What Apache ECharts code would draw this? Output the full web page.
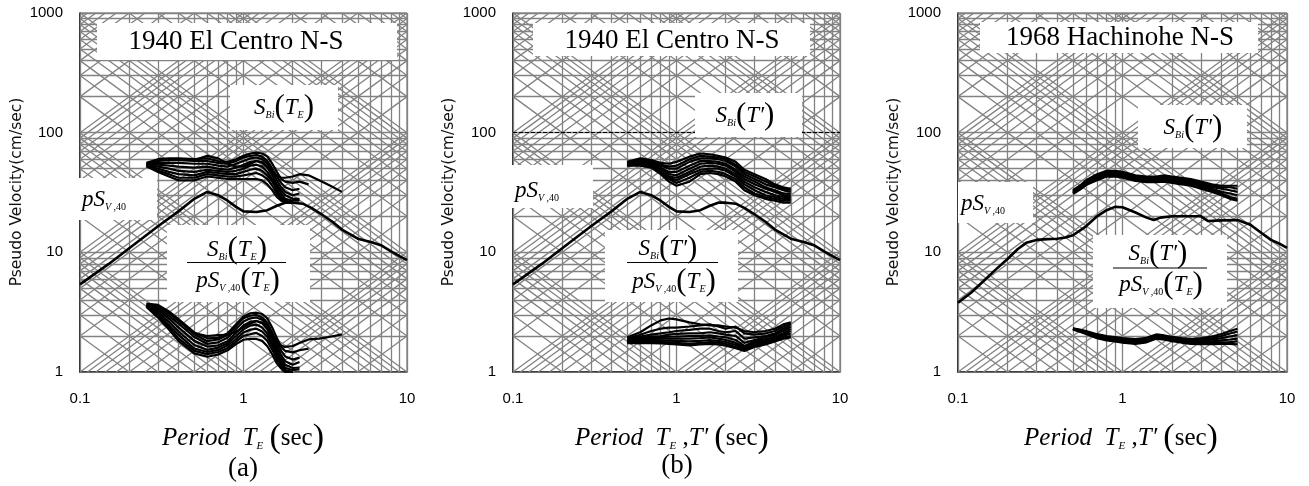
<!DOCTYPE html>
<html>
<head>
<meta charset="utf-8">
<script src="https://cdn.jsdelivr.net/npm/echarts@6/dist/echarts.min.js"></script>
<style>
  html, body { margin: 0; padding: 0; background: #fff; }
  #chart { width: 1309px; height: 486px; }
</style>
</head>
<body>
<div id="chart"></div>
<script>
// ---- data ----
const xTickLabels = ['0.1', '1', '10'];
const yTickLabels = ['1', '10', '100', '1000'];
const panelTitles = ['1940 El Centro N-S', '1940 El Centro N-S', '1968 Hachinohe N-S'];

// pS_V,40 spectra
const elcPeriods = [0.1, 0.15, 0.2, 0.3, 0.4, 0.5, 0.6, 0.7, 0.8, 0.9, 1.0, 1.2, 1.4, 1.6, 1.8, 2.0, 2.3, 2.6, 3.0, 3.5, 4.0, 5.0, 6.0, 7.0, 8.0, 9.0, 10];
const elcPsv40 = [5.4, 8.0, 10.8, 16.5, 22, 28, 32, 30, 27, 24, 22, 21.7, 22.5, 24.5, 26, 26, 25.5, 23.5, 20.8, 18, 15.5, 13, 12.2, 11.4, 10.2, 9.3, 8.6];
const hachPeriods = [0.1, 0.12, 0.14, 0.17, 0.2, 0.23, 0.26, 0.3, 0.35, 0.4, 0.45, 0.5, 0.6, 0.7, 0.8, 0.9, 1.0, 1.2, 1.4, 1.55, 1.7, 2.0, 2.5, 3.0, 3.3, 4.0, 5.0, 6.0, 7.0, 8.0, 9.0, 10];
const hachPsv40 = [3.8, 4.6, 5.6, 7.2, 8.8, 10.6, 12, 12.7, 12.9, 13, 13.3, 13.9, 16.5, 20, 22.5, 24, 23.8, 21.5, 19.5, 18.6, 19.5, 20, 20, 20, 18.3, 18.5, 18.6, 17, 14.5, 12.7, 11.8, 10.9];

// (a) S_Bi(T_E) and ratio, El Centro
const aPeriods = [0.255, 0.3, 0.35, 0.4, 0.5, 0.6, 0.7, 0.8, 0.9, 1.0, 1.1, 1.2, 1.3, 1.4, 1.5, 1.6, 1.7, 1.8, 2.0, 2.2, 2.5, 2.9, 3.4, 4.0];
const aSbi1 = [56, 60, 61, 61, 60, 61, 58, 57, 60, 64, 67, 68, 67, 63, 55, 47, 41, 39, 38, 39, 37];
const aSbi2 = [55.5, 58, 59, 59, 58, 58, 56, 55, 58, 62, 64, 65, 63, 58, 50, 43, 38, 35, 33, 34];
const aSbi3 = [55, 56, 56, 56, 55, 55, 53, 52, 55, 58, 61, 62, 60, 55, 47, 40, 35, 32, 30, 31];
const aSbi4 = [54.5, 54, 53, 52, 51, 52, 50, 49, 51, 54, 57, 58, 56, 51, 44, 37, 33, 30, 28, 28];
const aSbi5 = [54, 52, 50, 48, 47, 49, 48, 47, 48, 50, 53, 54, 52, 47, 41, 35, 31, 28, 27, 27];
const aSbi6 = [53.5, 50, 47, 45, 44, 47, 46, 45, 45, 47, 49, 50, 48, 44, 39, 33, 29, 27, 26];
const aSbi7 = [53, 48, 45, 42, 42, 45, 44, 43, 43, 44, 45, 46, 44, 41, 36, 31, 28, 26, 26];
const aSbi8 = [52.5, 47, 43, 40, 40, 43, 42, 41, 41, 41, 41, 41, 40, 37, 33, 29, 27, 26, 26];
const aSbi9 = [null, null, null, null, 59, 64, 61, 55, 52, 52, 55, 58, 57, 52, 47, 44, 42, 42, 43, 45, 44, 40, 36, 32];
const aRatio1 = [3.73, 3.64, 3.21, 2.77, 2.14, 1.91, 1.93, 2.11, 2.5, 2.91, 3.09, 3.13, 3.05, 2.8, 2.34, 1.92, 1.62, 1.5, 1.46, 1.52, 1.57];
const aRatio2 = [3.7, 3.52, 3.1, 2.68, 2.07, 1.81, 1.87, 2.04, 2.42, 2.82, 2.95, 3.0, 2.86, 2.58, 2.13, 1.76, 1.5, 1.35, 1.27, 1.32];
const aRatio3 = [3.67, 3.39, 2.95, 2.55, 1.96, 1.72, 1.77, 1.93, 2.29, 2.64, 2.81, 2.86, 2.73, 2.44, 2.0, 1.63, 1.38, 1.23, 1.15, 1.21];
const aRatio4 = [3.63, 3.27, 2.79, 2.36, 1.82, 1.63, 1.67, 1.81, 2.13, 2.45, 2.63, 2.67, 2.55, 2.27, 1.87, 1.51, 1.3, 1.15, 1.08, 1.09];
const aRatio5 = [3.6, 3.15, 2.63, 2.18, 1.68, 1.53, 1.6, 1.74, 2.0, 2.27, 2.44, 2.49, 2.36, 2.09, 1.74, 1.43, 1.23, 1.08, 1.04, 1.05];
const aRatio6 = [3.57, 3.03, 2.47, 2.05, 1.57, 1.47, 1.53, 1.67, 1.88, 2.14, 2.26, 2.3, 2.18, 1.96, 1.66, 1.35, 1.15, 1.04, 1.0];
const aRatio7 = [3.53, 2.91, 2.37, 1.91, 1.5, 1.41, 1.47, 1.59, 1.79, 2.0, 2.07, 2.12, 2.0, 1.82, 1.53, 1.27, 1.11, 1.0, 1.0];
const aRatio8 = [3.5, 2.85, 2.26, 1.82, 1.43, 1.34, 1.4, 1.52, 1.71, 1.86, 1.89, 1.89, 1.82, 1.64, 1.4, 1.18, 1.07, 1.0, 1.0];
const aRatio9 = [null, null, null, null, 2.11, 2.0, 2.03, 2.04, 2.17, 2.36, 2.53, 2.67, 2.59, 2.31, 2.0, 1.8, 1.66, 1.62, 1.65, 1.75, 1.87, 1.9, 1.97, 2.06];

// (b) S_Bi(T') and ratio, El Centro
const bPeriods = [0.5, 0.6, 0.7, 0.8, 0.9, 1.0, 1.2, 1.4, 1.6, 1.8, 2.0, 2.3, 2.6, 3.0, 3.5, 4.0, 4.5, 5.0];
const bSbi1 = [57, 61, 59, 56, 55, 57, 63, 67, 66, 64, 62, 57, 49, 45, 41, 37, 35, 34];
const bSbi2 = [56, 60, 58, 54, 52, 53, 60, 64, 63, 62, 60, 54, 47, 43, 39, 36, 34, 33];
const bSbi3 = [56, 59, 57, 53, 50, 50, 57, 61, 61, 60, 58, 52, 45, 41, 37, 35, 33, 32];
const bSbi4 = [55, 58, 56, 51, 47, 47, 53, 58, 58, 57, 55, 49, 43, 39, 35, 33, 31, 31];
const bSbi5 = [55, 57, 55, 50, 45, 44, 50, 55, 56, 55, 53, 47, 41, 37, 34, 32, 30, 30];
const bSbi6 = [54, 56, 54, 48, 43, 42, 47, 52, 53, 52, 50, 45, 39, 35, 32, 30, 29, 29];
const bSbi7 = [54, 55, 53, 47, 42, 40, 45, 49, 50, 50, 48, 43, 37, 33, 30, 29, 28, 28];
const bSbi8 = [53, 54, 52, 46, 41, 38, 42, 47, 48, 47, 45, 41, 35, 31, 29, 28, 27, 27];
const bSbi9 = [53, 53, 51, 45, 39, 36, 39, 45, 46, 45, 43, 39, 33, 30, 28, 27, 26, 26];
const bRatio1 = [1.95, 2.15, 2.45, 2.7, 2.8, 2.75, 2.6, 2.5, 2.45, 2.45, 2.4, 2.35, 2.2, 2.15, 2.2, 2.3, 2.5, 2.6];
const bRatio2 = [1.9, 2.05, 2.2, 2.3, 2.35, 2.35, 2.4, 2.45, 2.5, 2.4, 2.3, 2.4, 2.1, 2.05, 2.1, 2.2, 2.4, 2.55];
const bRatio3 = [1.88, 1.98, 2.05, 2.1, 2.15, 2.2, 2.25, 2.3, 2.3, 2.2, 2.15, 2.2, 1.9, 1.95, 2.0, 2.1, 2.3, 2.5];
const bRatio4 = [1.85, 1.92, 1.98, 2.0, 2.05, 2.08, 2.1, 2.1, 2.15, 2.1, 2.05, 2.0, 1.75, 1.85, 1.95, 2.05, 2.2, 2.4];
const bRatio5 = [1.82, 1.88, 1.92, 1.95, 1.97, 1.98, 2.0, 2.0, 2.02, 1.98, 1.95, 1.85, 1.65, 1.8, 1.88, 1.98, 2.1, 2.3];
const bRatio6 = [1.8, 1.85, 1.88, 1.9, 1.9, 1.9, 1.9, 1.92, 1.95, 1.9, 1.85, 1.75, 1.6, 1.75, 1.82, 1.92, 2.05, 2.2];
const bRatio7 = [1.78, 1.82, 1.84, 1.84, 1.83, 1.82, 1.8, 1.82, 1.85, 1.82, 1.78, 1.68, 1.55, 1.7, 1.78, 1.88, 2.0, 2.1];
const bRatio8 = [1.76, 1.78, 1.78, 1.78, 1.77, 1.75, 1.72, 1.75, 1.78, 1.76, 1.72, 1.62, 1.52, 1.66, 1.74, 1.84, 1.95, 2.0];
const bRatio9 = [1.74, 1.75, 1.74, 1.73, 1.72, 1.7, 1.67, 1.7, 1.72, 1.7, 1.66, 1.58, 1.5, 1.62, 1.7, 1.8, 1.9, 1.95];

// (c) S_Bi(T') and ratio, Hachinohe
const cPeriods = [0.5, 0.55, 0.6, 0.7, 0.8, 0.9, 1.0, 1.2, 1.4, 1.6, 1.8, 2.0, 2.3, 2.6, 3.0, 3.5, 4.0, 4.5, 5.0];
const cSbi1 = [33, 36, 40, 45, 48, 48, 47, 44, 43, 43, 44, 43, 42, 41, 39, 37, 36, 36, 36];
const cSbi2 = [32.5, 35.5, 39, 44, 47, 47, 46, 43, 42, 42, 43, 42, 41, 40, 38, 36, 35, 35, 34];
const cSbi3 = [32, 35, 38, 43, 46, 46, 45, 42, 41, 41, 42, 41, 40, 39, 37, 35, 34, 33, 32];
const cSbi4 = [31.5, 34.5, 37.5, 42, 45, 45, 44, 41, 40, 40, 41, 40, 39, 38, 36, 34, 32, 31, 30];
const cSbi5 = [31, 34, 37, 41, 44, 44, 43, 40, 39, 39, 40, 39, 38, 37, 35, 33, 31, 29, 28];
const cSbi6 = [31, 33.5, 36.5, 40, 43, 43, 42, 39.5, 38.5, 38.5, 39, 38, 37, 36, 34, 32, 30, 28, 27];
const cRatio1 = [2.32, 2.26, 2.2, 2.07, 2.0, 1.96, 1.92, 1.88, 1.93, 2.06, 2.02, 1.97, 1.92, 1.88, 1.92, 1.98, 2.08, 2.2, 2.3];
const cRatio2 = [2.31, 2.24, 2.18, 2.04, 1.96, 1.92, 1.88, 1.84, 1.89, 2.02, 1.99, 1.94, 1.89, 1.84, 1.87, 1.92, 2.0, 2.1, 2.18];
const cRatio3 = [2.3, 2.22, 2.15, 2.0, 1.92, 1.88, 1.84, 1.8, 1.85, 1.98, 1.95, 1.9, 1.85, 1.8, 1.82, 1.86, 1.92, 1.98, 2.03];
const cRatio4 = [2.29, 2.2, 2.12, 1.97, 1.89, 1.85, 1.81, 1.77, 1.82, 1.95, 1.92, 1.87, 1.82, 1.77, 1.78, 1.8, 1.84, 1.87, 1.9];
const cRatio5 = [2.28, 2.18, 2.1, 1.94, 1.86, 1.82, 1.78, 1.74, 1.79, 1.92, 1.89, 1.84, 1.79, 1.74, 1.74, 1.75, 1.77, 1.78, 1.8];
const cRatio6 = [2.27, 2.17, 2.08, 1.92, 1.84, 1.8, 1.76, 1.72, 1.77, 1.9, 1.86, 1.81, 1.76, 1.72, 1.71, 1.71, 1.72, 1.72, 1.7];

// tripartite grid: mantissas per decade
const gridMantissas = [1, 2, 3, 4, 5, 6, 7, 8, 9];

// ---- layout ----
const SERIF = '"Liberation Serif", "Times New Roman", serif';
const SANS = '"Liberation Sans", Arial, sans-serif';
const plotTop = 13, plotHeight = 359;
const grids = [
  { left: 80, top: plotTop, width: 327, height: plotHeight },
  { left: 513, top: plotTop, width: 327, height: plotHeight },
  { left: 958, top: plotTop, width: 329, height: plotHeight }
];

function pairs(periods, values) {
  const out = [];
  for (let i = 0; i < values.length; i++) {
    if (values[i] != null) out.push([periods[i], values[i]]);
  }
  return out;
}

function decadeValues(lo, hi) {
  const out = [];
  for (let e = lo; e < hi; e++) {
    gridMantissas.forEach(m => out.push(+(m * Math.pow(10, e)).toPrecision(6)));
  }
  out.push(Math.pow(10, hi));
  return out;
}

function gridLines() {
  const c = [];
  decadeValues(-1, 1).forEach(t => c.push([[t, 1], [t, 1000]]));
  decadeValues(0, 3).forEach(v => c.push([[0.1, v], [10, v]]));
  decadeValues(-1, 4).forEach(k => {
    // constant acceleration (slope +1)
    let t0 = Math.max(0.1, 1 / k), t1 = Math.min(10, 1000 / k);
    if (t1 > t0 * 1.0001) c.push([[t0, k * t0], [t1, k * t1]]);
    // constant displacement (slope -1)
    t0 = Math.max(0.1, k / 1000); t1 = Math.min(10, k);
    if (t1 > t0 * 1.0001) c.push([[t0, k / t0], [t1, k / t1]]);
  });
  return c.map(x => ({ coords: x }));
}

const series = [];
grids.forEach((g, i) => {
  series.push({
    type: 'lines', coordinateSystem: 'cartesian2d', xAxisIndex: i, yAxisIndex: i,
    silent: true, z: 1, polyline: false,
    lineStyle: { color: '#828282', width: 1.3, opacity: 1 },
    data: gridLines()
  });
});
// thin black dashed line at 100 in (b)
series.push({
  type: 'lines', coordinateSystem: 'cartesian2d', xAxisIndex: 1, yAxisIndex: 1,
  silent: true, z: 2,
  lineStyle: { color: '#000', width: 1, opacity: 1, type: [4, 2] },
  data: [{ coords: [[0.1, 100], [10, 100]] }]
});

function curve(idx, periods, values, width) {
  series.push({
    type: 'line', xAxisIndex: idx, yAxisIndex: idx, z: 10,
    showSymbol: false, symbol: 'none', silent: true, smooth: false,
    lineStyle: { color: '#000', width: width || 2.2 },
    data: pairs(periods, values)
  });
}

curve(0, elcPeriods, elcPsv40, 2.6);
[aSbi1, aSbi2, aSbi3, aSbi4, aSbi5, aSbi6, aSbi7, aSbi8, aSbi9].forEach(s => curve(0, aPeriods, s));
[aRatio1, aRatio2, aRatio3, aRatio4, aRatio5, aRatio6, aRatio7, aRatio8, aRatio9].forEach(s => curve(0, aPeriods, s));

curve(1, elcPeriods, elcPsv40, 2.6);
[bSbi1, bSbi2, bSbi3, bSbi4, bSbi5, bSbi6, bSbi7, bSbi8, bSbi9].forEach(s => curve(1, bPeriods, s));
[bRatio1, bRatio2, bRatio3, bRatio4, bRatio5, bRatio6, bRatio7, bRatio8, bRatio9].forEach(s => curve(1, bPeriods, s));

curve(2, hachPeriods, hachPsv40, 2.6);
[cSbi1, cSbi2, cSbi3, cSbi4, cSbi5, cSbi6].forEach(s => curve(2, cPeriods, s));
[cRatio1, cRatio2, cRatio3, cRatio4, cRatio5, cRatio6].forEach(s => curve(2, cPeriods, s));

// math-ish rich text styles: a tight line box so bottom-aligned
// subscripts sit just under the baseline of the big letters
function mathRich(size) {
  const L = Math.round(size * 1.08);
  const subSize = Math.round(size * 0.45);
  return {
    i: { fontFamily: SERIF, fontStyle: 'italic', fontSize: size, lineHeight: L, verticalAlign: 'middle', color: '#000' },
    r: { fontFamily: SERIF, fontSize: size, lineHeight: L, verticalAlign: 'middle', color: '#000' },
    p: { fontFamily: SERIF, fontSize: Math.round(size * 1.35), lineHeight: L, verticalAlign: 'middle', color: '#000' },
    s: { fontFamily: SERIF, fontStyle: 'italic', fontSize: subSize, verticalAlign: 'bottom', color: '#000' },
    sr: { fontFamily: SERIF, fontSize: subSize, verticalAlign: 'bottom', color: '#000' }
  };
}

function box(x, y, w, h) {
  return { type: 'rect', z: 5, silent: true, shape: { x: x, y: y, width: w, height: h }, style: { fill: '#fff' } };
}
function mtext(x, y, text, size, align) {
  return {
    type: 'text', z: 6, silent: true, x: x, y: y,
    style: { text: text, rich: mathRich(size), align: align || 'center', verticalAlign: 'middle' }
  };
}
function ptext(x, y, text, size) {
  return {
    type: 'text', z: 6, silent: true, x: x, y: y,
    style: { text: text, fontFamily: SERIF, fontSize: size, fill: '#000', align: 'center', verticalAlign: 'middle' }
  };
}
function fracLine(x1, x2, y) {
  return { type: 'line', z: 6, silent: true, shape: { x1: x1, y1: y, x2: x2, y2: y }, style: { stroke: '#000', lineWidth: 1 } };
}
function ytitle(x) {
  return {
    type: 'text', z: 6, silent: true, x: x, y: 192, rotation: Math.PI / 2,
    style: { text: 'Pseudo Velocity(cm/sec)', fontFamily: '"DejaVu Sans", sans-serif', fontSize: 15.5, fill: '#111', align: 'center', verticalAlign: 'middle' }
  };
}

const sbiTE = '{i|S}{s|Bi}{p|(}{i|T}{s|E}{p|)}';
const sbiTp = '{i|S}{s|Bi}{p|(}{i|T′}{p|)}';
const psvLbl = '{i|pS}{s|V}{sr| ,40}';
const psvTE = '{i|pS}{s|V}{sr| ,40}{p|(}{i|T}{s|E}{p|)}';
const xTitleA = '{i|Period}{r|  }{i|T}{s|E}{r| }{p|(}{r|sec}{p|)}';
const xTitleB = '{i|Period}{r|  }{i|T}{s|E}{r| ,}{i|T′}{r| }{p|(}{r|sec}{p|)}';

const graphic = [
  // (a)
  box(97, 23, 300, 37), ptext(236, 42, panelTitles[0], 27),
  box(230, 85, 108, 45), mtext(284, 108, sbiTE, 23),
  box(79, 178, 78, 42), mtext(82, 200, psvLbl, 23, 'left'),
  box(167, 225, 143, 77), mtext(237, 250, sbiTE, 23), fracLine(187, 286, 262.5), mtext(238, 281, psvTE, 23),
  ytitle(17),
  mtext(243, 438, xTitleA, 25), ptext(243, 469, '(a)', 27),
  // (b)
  box(533, 23, 277, 33), ptext(672, 41, panelTitles[1], 27),
  box(695, 93, 107, 44), mtext(745, 116, sbiTp, 23),
  box(512, 165, 81, 43), mtext(515, 191, psvLbl, 23, 'left'),
  box(605, 230, 133, 72), mtext(668, 249, sbiTp, 23), fracLine(627, 718, 262.5), mtext(674, 282, psvTE, 23),
  ytitle(449),
  mtext(672, 438, xTitleB, 25), ptext(677, 466, '(b)', 27),
  // (c)
  box(980, 22, 278, 31), ptext(1120, 38, panelTitles[2], 27),
  box(1138, 105, 109, 43), mtext(1193, 128, sbiTp, 23),
  box(958, 182, 75, 41), mtext(961, 204, psvLbl, 23, 'left'),
  box(1093, 235, 134, 73), mtext(1158, 254, sbiTp, 23), fracLine(1113, 1207, 268), mtext(1161, 285, psvTE, 23),
  ytitle(894),
  mtext(1121, 438, xTitleB, 25)
];

const chart = echarts.init(document.getElementById('chart'), null, { renderer: 'canvas' });
chart.setOption({
  animation: false,
  backgroundColor: '#fff',
  grid: grids.map(g => Object.assign({ show: true, borderColor: '#555', borderWidth: 1, backgroundColor: 'transparent' }, g)),
  xAxis: grids.map((g, i) => ({
    type: 'log', logBase: 10, min: 0.1, max: 10, gridIndex: i,
    axisLine: { show: true, onZero: false, lineStyle: { color: '#000', width: 1.5 } },
    axisTick: { show: false }, splitLine: { show: false },
    axisLabel: { margin: 19, fontSize: 15, fontFamily: SANS, color: '#000', formatter: (v, idx) => xTickLabels[idx] }
  })),
  yAxis: grids.map((g, i) => ({
    type: 'log', logBase: 10, min: 1, max: 1000, gridIndex: i,
    axisLine: { show: true, onZero: false, lineStyle: { color: '#000', width: 1.5 } },
    axisTick: { show: false }, splitLine: { show: false },
    axisLabel: { margin: 17, fontSize: 15, fontFamily: SANS, color: '#000', formatter: (v, idx) => yTickLabels[idx] }
  })),
  series: series,
  graphic: graphic
});
</script>
</body>
</html>
